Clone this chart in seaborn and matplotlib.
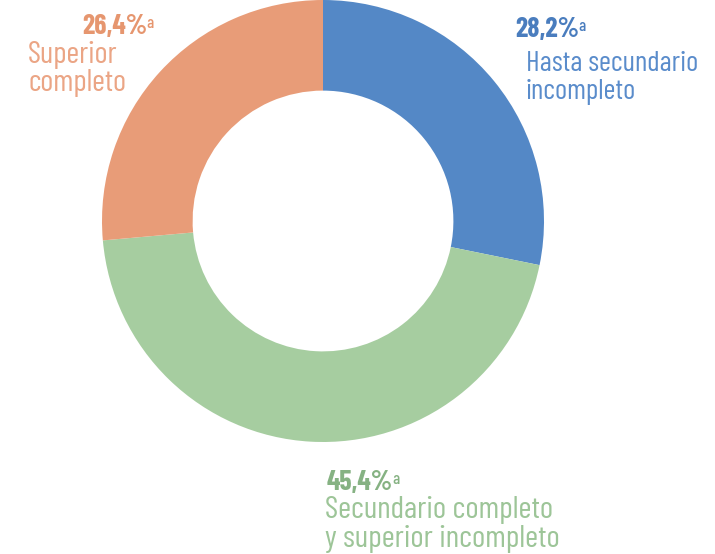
import matplotlib
matplotlib.use("Agg")
import matplotlib.pyplot as plt
import seaborn as sns

# data
categories = [["Hasta secundario", "incompleto"],
              ["Secundario completo", "y superior incompleto"],
              ["Superior", "completo"]]
shares = [28.2, 45.4, 26.4]
pct_labels = ["28,2%", "45,4%", "26,4%"]
wedge_colors = ["#5488C6", "#A6CDA0", "#E89C78"]
pct_colors = ["#4A7DBE", "#86B283", "#E6966F"]
text_colors = ["#5A8CCB", "#9DC598", "#EBA585"]

sns.set_theme(style="white")
plt.rcParams["font.family"] = ["Barlow Condensed", "DejaVu Sans"]

W, H = 715, 554
fig = plt.figure(figsize=(W / 100, H / 100), dpi=100)
ax = fig.add_axes([0, 0, 1, 1])

cx, cy, r = 323, 221, 221
ax.pie(shares, colors=wedge_colors, startangle=90, counterclock=False,
       radius=1, wedgeprops=dict(width=0.41, linewidth=0))
ax.set_xlim(-cx / r, (W - cx) / r)
ax.set_ylim(-(H - cy) / r, cy / r)
ax.set_aspect("auto")
ax.axis("off")

fig.canvas.draw()
renderer = fig.canvas.get_renderer()


def width_px(s, size, weight):
    t = fig.text(0, 0, s, fontsize=size, fontweight=weight)
    w = t.get_window_extent(renderer).width
    t.remove()
    return w


# target widths of the first label line in the reference (px)
lab_target = [172, 228, 90]

# left x, baseline y in pixels
pct_pos = [(515, 37), (327, 490), (82, 34)]
lab_x = [526, 325, 28]
lab_base = [[71, 99], [518, 547], [63, 91]]

for i in range(3):
    lsize = 20 * lab_target[i] / width_px(categories[i][0], 20, 400)
    t = fig.text(pct_pos[i][0] / W, 1 - pct_pos[i][1] / H, pct_labels[i],
                 color=pct_colors[i], fontsize=20, fontweight=700,
                 ha="left", va="baseline")
    bb = t.get_window_extent(renderer)
    fig.text((bb.x1 - 1) / W, (bb.y1 - 2) / H, "a", color=pct_colors[i],
             fontsize=12, fontweight=500, ha="left", va="top")
    for line, base in zip(categories[i], lab_base[i]):
        fig.text(lab_x[i] / W, 1 - base / H, line, color=text_colors[i],
                 fontsize=lsize, fontweight=400, ha="left", va="baseline")

fig.savefig("out.png", dpi=100)
